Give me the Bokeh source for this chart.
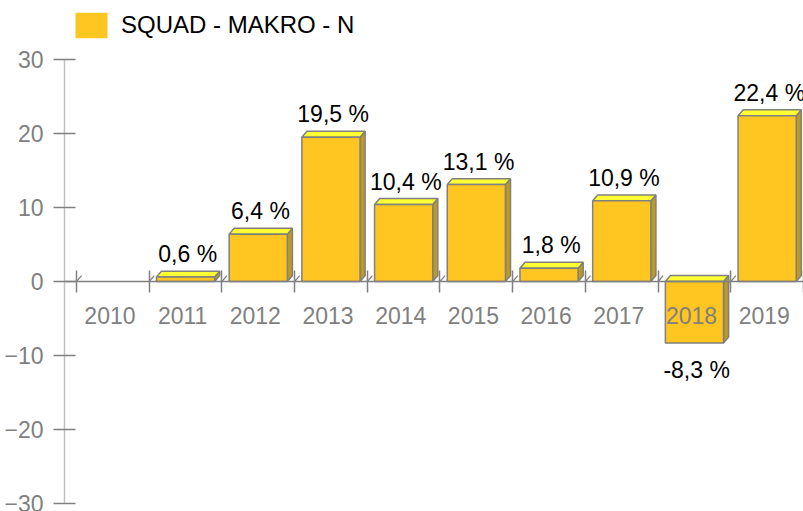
from bokeh.plotting import figure
from bokeh.models import (ColumnDataSource, LinearAxis, FixedTicker, Range1d,
                          Legend, LegendItem)
from bokeh.core.properties import value
from bokeh.embed import file_html
from bokeh.resources import INLINE

# ---- data ----
years = ["2010", "2011", "2012", "2013", "2014", "2015", "2016", "2017", "2018", "2019"]
values = [None, 0.6, 6.4, 19.5, 10.4, 13.1, 1.8, 10.9, -8.3, 22.4]
series_name = "SQUAD - MAKRO - N"
y_ticks = [-30, -20, -10, 0, 10, 20, 30]

FONT_NAME = "Liberation Sans"
FONT = value(FONT_NAME)
FRONT = "#FFC520"
TOP = "#FFFF33"
SIDE = "#BD9A22"
EDGE = "#808080"

# 3D depth in data units (about 5px x, 6px y)
DX = 0.07
DY = 0.8

p = figure(width=803, height=511, output_backend="svg", toolbar_location=None,
           x_range=Range1d(-0.165, 10.0), y_range=Range1d(-31.08, 37.97),
           min_border_left=64, min_border_right=0, min_border_top=0, min_border_bottom=0,
           x_axis_type=None, y_axis_type=None)
p.outline_line_color = None
p.xgrid.visible = False
p.ygrid.visible = False
p.background_fill_color = "white"
p.border_fill_color = "white"

# bar geometry from data
idx = [i for i, v in enumerate(values) if v is not None]
vals = [values[i] for i in idx]
src = ColumnDataSource(dict(
    left=[i + 0.1 for i in idx],
    right=[i + 0.9 for i in idx],
    bottom=[min(0, v) for v in vals],
    top=[max(0, v) for v in vals],
))
d = src.data
side_xs = [[r, r + DX, r + DX, r] for r in d["right"]]
side_ys = [[b, b + DY, t + DY, t] for b, t in zip(d["bottom"], d["top"])]
top_xs = [[l, l + DX, r + DX, r] for l, r in zip(d["left"], d["right"])]
top_ys = [[t, t + DY, t + DY, t] for t in d["top"]]

# floor depth slashes at category boundaries
bounds = list(range(len(years) + 1))
p.segment(x0=bounds, y0=[0] * len(bounds), x1=[b + DX for b in bounds],
          y1=[DY] * len(bounds), line_color=EDGE, line_width=1.2)

p.patches(xs=side_xs, ys=side_ys, fill_color=SIDE, line_color=EDGE, line_width=1.5)
p.patches(xs=top_xs, ys=top_ys, fill_color=TOP, line_color=EDGE, line_width=1.5)
# legend swatch renderer (no outline), hidden under the front faces
swatch = p.quad(left="left", right="right", bottom="bottom", top="top", source=src,
                fill_color=FRONT, line_color=None)
p.quad(left="left", right="right", bottom="bottom", top="top", source=src,
       fill_color=FRONT, line_color=EDGE, line_width=1.5)

# value labels
labels = [f"{v:.1f}".replace(".", ",") + " %" for v in vals]
pos = [k for k, v in enumerate(vals) if v >= 0]
neg = [k for k, v in enumerate(vals) if v < 0]
p.text(x=[idx[k] + 0.53 for k in pos], y=[vals[k] for k in pos], text=[labels[k] for k in pos],
       text_align="center", text_baseline="alphabetic", y_offset=-23,
       text_font=FONT, text_font_size="23px", text_color="black")
p.text(x=[idx[k] + 0.53 for k in neg], y=[vals[k] for k in neg], text=[labels[k] for k in neg],
       text_align="center", text_baseline="alphabetic", y_offset=27,
       text_font=FONT, text_font_size="23px", text_color="black")

# y axis
yax = LinearAxis(ticker=FixedTicker(ticks=y_ticks), bounds=(-30, 30),
                 axis_line_color="#C0C0C0", axis_line_width=1.5,
                 major_tick_line_color=EDGE, major_tick_line_width=1.5,
                 major_tick_in=11, major_tick_out=11, minor_tick_line_color=None,
                 major_label_standoff=10, major_label_text_color=EDGE,
                 major_label_text_font=FONT_NAME, major_label_text_font_size="23px")
p.add_layout(yax, "left")

# x axis: boundary ticks
xax_ticks = LinearAxis(ticker=FixedTicker(ticks=bounds), fixed_location=0,
                       bounds=(-0.165, 10.0),
                       axis_line_color=EDGE, axis_line_width=1.5,
                       major_tick_line_color=EDGE, major_tick_line_width=1.5,
                       major_tick_in=11, major_tick_out=11, minor_tick_line_color=None,
                       major_label_text_alpha=0)
p.add_layout(xax_ticks, "below")

# x axis: category labels at centres
centers = [i + 0.46 for i in range(len(years))]
xax_lab = LinearAxis(ticker=FixedTicker(ticks=centers), fixed_location=0,
                     axis_line_color=None, major_tick_line_color=None,
                     minor_tick_line_color=None, major_tick_in=0, major_tick_out=11,
                     major_label_standoff=15, major_label_text_color=EDGE,
                     major_label_text_font=FONT_NAME, major_label_text_font_size="23px",
                     major_label_overrides={c: y for c, y in zip(centers, years)})
p.add_layout(xax_lab, "below")

# legend
legend = Legend(items=[LegendItem(label=series_name, renderers=[swatch])],
                location=(7, 470), orientation="horizontal",
                glyph_width=40, glyph_height=32, label_height=32, label_standoff=10,
                padding=0, margin=0, spacing=0,
                border_line_alpha=0, background_fill_alpha=0,
                label_text_font=FONT_NAME, label_text_font_size="24px",
                label_text_color="black")
p.add_layout(legend, "center")

open("out.html", "w").write(file_html(p, INLINE))
